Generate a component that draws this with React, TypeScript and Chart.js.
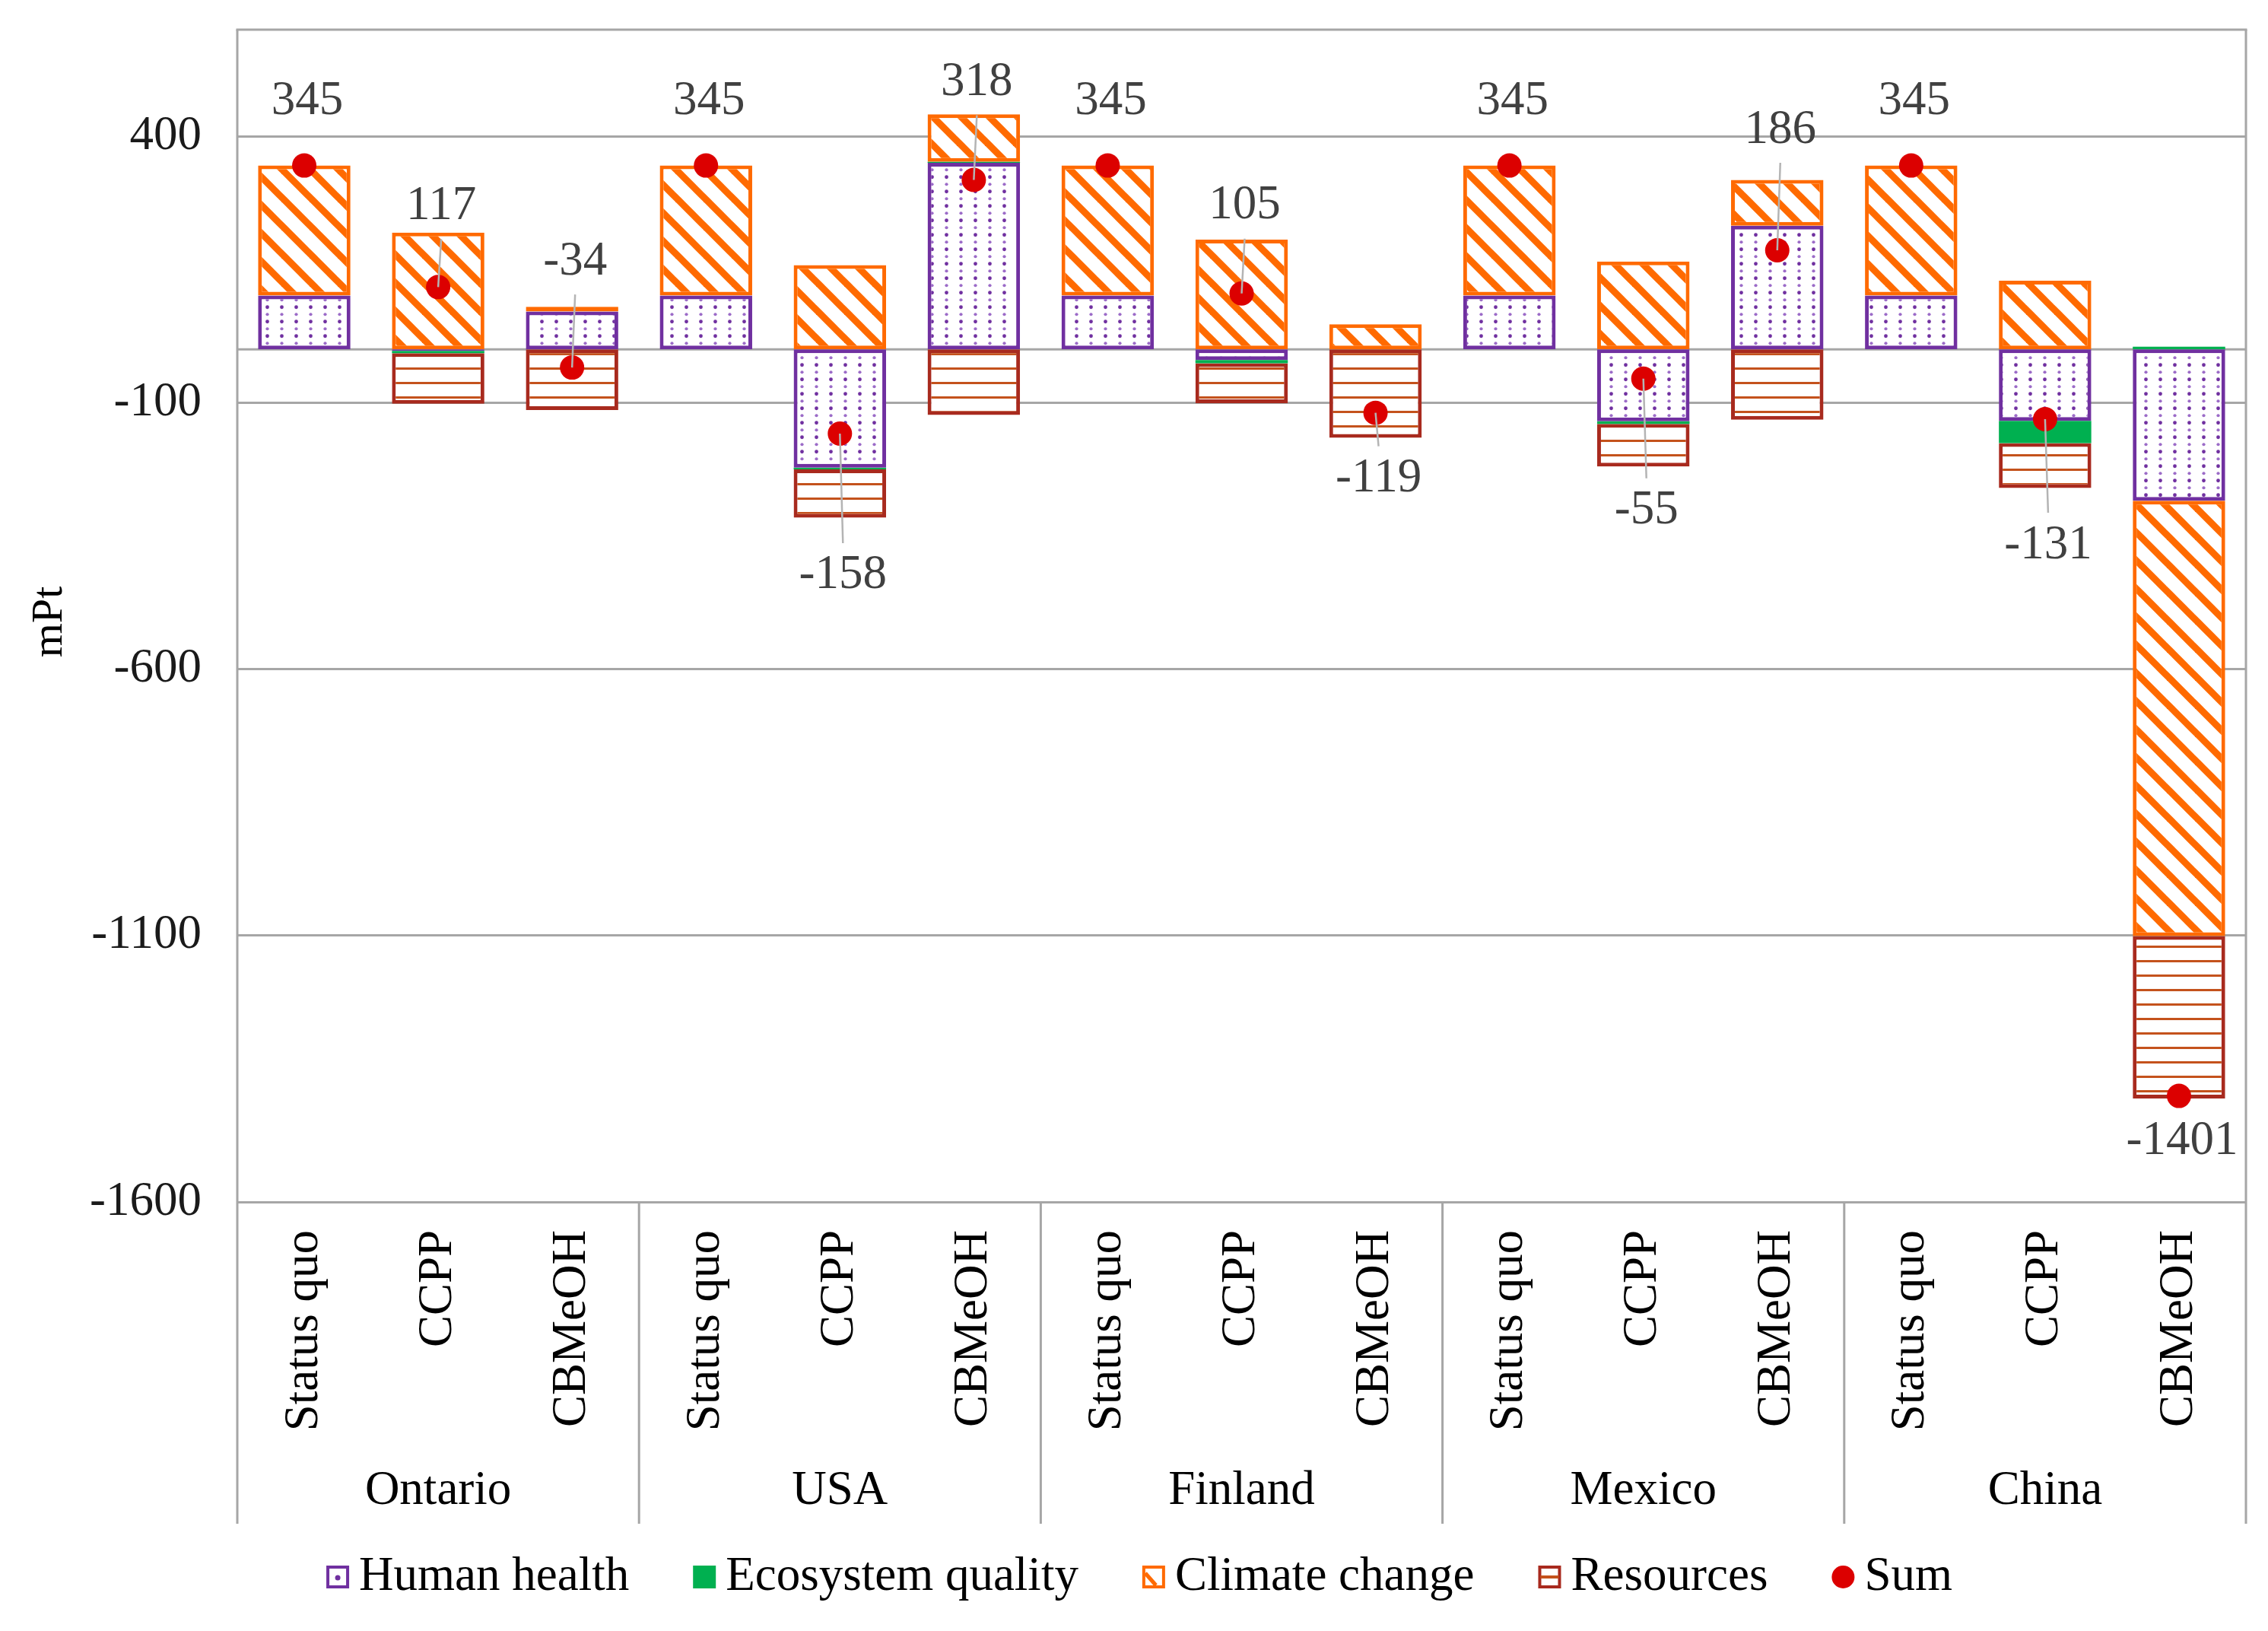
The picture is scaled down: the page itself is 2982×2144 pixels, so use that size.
import { useEffect, useRef } from 'react';
import { Chart, registerables } from 'chart.js';

Chart.register(...registerables);

// ---------- data ----------
const regions = ['Ontario', 'USA', 'Finland', 'Mexico', 'China'];
const scenarios = ['Status quo', 'CCPP', 'CBMeOH'];
const categories = regions.flatMap(() => scenarios);

const humanHealth = [101, -3, 71, 101, -222, 350, 101, -20, 0, 101, -135, 232, 101, -134, -284];
const ecosystemQuality = [0, -4, 0, 0, -3, 2, 0, -6, 0, 0, -5, 0, 0, -42, 5];
const climateChange = [244, 219, 9, 244, 158, 89, 244, 206, 47, 244, 165, 86, 244, 129, -817];
const resources = [0, -95, -114, 0, -91, -123, 0, -75, -166, 0, -80, -132, 0, -84, -305];
const sumValues = [345, 117, -34, 345, -158, 318, 345, 105, -119, 345, -55, 186, 345, -131, -1401];
const yTicks = [-1600, -1100, -600, -100, 400];

// ---------- label placement (style) ----------
const labelShift = [-84, -106, -139, -84, 187, -128, -84, -115, 87, -84, 174, -158, -84, 166, 60];
const labelLeader = [false, true, true, false, true, true, false, true, true, false, true, true, false, true, false];

const FONT = '"Liberation Serif", "Times New Roman", serif';
const GRID = '#a6a6a6';
const PURPLE = '#7030a0';
const PURPLE_LIGHT = '#9c6cc8';
const GREEN = '#00b050';
const ORANGE = '#ff6a00';
const RES_BORDER = '#a82a1e';
const RES_LINE = '#c4521c';
const SUM_RED = '#dc0000';

function makePattern(w: number, h: number, draw: (c: CanvasRenderingContext2D) => void) {
  const cv = document.createElement('canvas');
  cv.width = w;
  cv.height = h;
  const c = cv.getContext('2d') as CanvasRenderingContext2D;
  c.fillStyle = '#ffffff';
  c.fillRect(0, 0, w, h);
  draw(c);
  const ctx = document.createElement('canvas').getContext('2d') as CanvasRenderingContext2D;
  return ctx.createPattern(cv, 'repeat') as CanvasPattern;
}

export default function App() {
  const ref = useRef<HTMLCanvasElement | null>(null);

  useEffect(() => {
    if (!ref.current) return;

    const hhPattern = makePattern(19, 19, (c) => {
      c.fillStyle = PURPLE;
      c.beginPath();
      c.arc(9.5, 4.75, 2.4, 0, Math.PI * 2);
      c.fill();
      c.fillStyle = PURPLE_LIGHT;
      c.beginPath();
      c.arc(9.5, 14.25, 2.1, 0, Math.PI * 2);
      c.fill();
    });
    const T = 37;
    const ccPattern = makePattern(T, T, (c) => {
      c.strokeStyle = ORANGE;
      c.lineWidth = 9;
      for (const x0 of [-T, 0, T]) {
        c.beginPath();
        c.moveTo(x0 - 6, -6);
        c.lineTo(x0 + T + 6, T + 6);
        c.stroke();
      }
    });
    const resPattern = makePattern(10, 19, (c) => {
      c.fillStyle = RES_LINE;
      c.fillRect(0, 8, 10, 3);
    });

    const overlay = {
      id: 'overlay',
      beforeDatasetsDraw(chart: any) {
        const { ctx, chartArea: ca, scales } = chart;
        const x = scales.x;
        const y = scales.y;
        const bottom = x.bottom;
        ctx.save();
        ctx.strokeStyle = GRID;
        ctx.lineWidth = 3;
        const seg = (x1: number, y1: number, x2: number, y2: number) => {
          ctx.beginPath();
          ctx.moveTo(x1, y1);
          ctx.lineTo(x2, y2);
          ctx.stroke();
        };
        const y0 = y.getPixelForValue(0);
        seg(ca.left, y0, ca.right, y0);
        seg(ca.left - 1.5, ca.top, ca.right + 1.5, ca.top);
        seg(ca.left, ca.top, ca.left, bottom);
        seg(ca.right, ca.top, ca.right, bottom);
        for (let k = 1; k < regions.length; k++) {
          const xb = (x.getPixelForValue(k * 3 - 1) + x.getPixelForValue(k * 3)) / 2;
          seg(xb, ca.bottom, xb, bottom);
        }
        ctx.restore();
      },
      afterDatasetsDraw(chart: any) {
        const { ctx } = chart;
        const meta = chart.getDatasetMeta(4);
        ctx.save();
        ctx.font = `63px ${FONT}`;
        ctx.textAlign = 'center';
        ctx.textBaseline = 'middle';
        meta.data.forEach((pt: any, i: number) => {
          const lx = pt.x + 4;
          const ly = pt.y + labelShift[i];
          if (labelLeader[i]) {
            ctx.strokeStyle = '#b4b4b4';
            ctx.lineWidth = 2.5;
            ctx.beginPath();
            ctx.moveTo(pt.x, pt.y);
            ctx.lineTo(lx, ly + (labelShift[i] < 0 ? 43 : -43));
            ctx.stroke();
          }
          ctx.fillStyle = '#404040';
          ctx.fillText(String(sumValues[i]), lx, ly);
        });
        ctx.restore();
      },
      afterDraw(chart: any) {
        const { ctx, chartArea: ca, scales } = chart;
        const x = scales.x;
        ctx.save();
        // region labels
        ctx.font = `63px ${FONT}`;
        ctx.fillStyle = '#000';
        ctx.textAlign = 'center';
        ctx.textBaseline = 'middle';
        regions.forEach((r, k) => {
          const cx = x.getPixelForValue(k * 3 + 1);
          ctx.fillText(r, cx, x.bottom - 43);
        });
        // y title
        ctx.save();
        ctx.translate(66, (ca.top + ca.bottom) / 2 + 8);
        ctx.rotate(-Math.PI / 2);
        ctx.font = `58px ${FONT}`;
        ctx.fillText('mPt', 0, 0);
        ctx.restore();
        // legend
        const labels = chart.data.datasets.map((d: any) => d.label);
        ctx.font = `63px ${FONT}`;
        const box = 30;
        const gapBT = 13;
        const gapItem = 84;
        const widths = labels.map((l: string) => ctx.measureText(l).width);
        const total = widths.reduce((a: number, w: number) => a + box + gapBT + w, 0) + gapItem * (labels.length - 1);
        let lx = chart.width / 2 + 7 - total / 2;
        const yc = chart.height - 71;
        labels.forEach((l: string, i: number) => {
          const bx = lx;
          const by = yc - box / 2;
          if (i === 0) {
            ctx.fillStyle = '#fff';
            ctx.fillRect(bx, by, box, box);
            ctx.strokeStyle = PURPLE;
            ctx.lineWidth = 4;
            ctx.strokeRect(bx + 2, by + 2, box - 4, box - 4);
            ctx.fillStyle = PURPLE;
            ctx.beginPath();
            ctx.arc(bx + box / 2, yc + 1, 3.5, 0, Math.PI * 2);
            ctx.fill();
          } else if (i === 1) {
            ctx.fillStyle = GREEN;
            ctx.fillRect(bx, by, box, box);
          } else if (i === 2) {
            ctx.fillStyle = '#fff';
            ctx.fillRect(bx, by, box, box);
            ctx.strokeStyle = ORANGE;
            ctx.lineWidth = 4;
            ctx.strokeRect(bx + 2, by + 2, box - 4, box - 4);
            ctx.lineWidth = 5;
            ctx.beginPath();
            ctx.moveTo(bx + 4, by + 10);
            ctx.lineTo(bx + 18, by + 26);
            ctx.stroke();
          } else if (i === 3) {
            ctx.fillStyle = '#fff';
            ctx.fillRect(bx, by, box, box);
            ctx.strokeStyle = RES_BORDER;
            ctx.lineWidth = 4;
            ctx.strokeRect(bx + 2, by + 2, box - 4, box - 4);
            ctx.fillStyle = RES_LINE;
            ctx.fillRect(bx + 3, yc - 2, box - 6, 4);
          } else {
            ctx.fillStyle = SUM_RED;
            ctx.beginPath();
            ctx.arc(bx + box / 2, yc, 15, 0, Math.PI * 2);
            ctx.fill();
          }
          ctx.fillStyle = '#000';
          ctx.textAlign = 'left';
          ctx.textBaseline = 'middle';
          ctx.fillText(l, bx + box + gapBT, yc);
          lx += box + gapBT + widths[i] + gapItem;
        });
        ctx.restore();
      },
    };

    const barCommon = {
      type: 'bar' as const,
      stack: 'impact',
      borderSkipped: false,
      barPercentage: 0.69,
      categoryPercentage: 1,
    };

    const chart = new Chart(ref.current, {
      type: 'bar',
      data: {
        labels: categories,
        datasets: [
          { ...barCommon, label: 'Human health', data: humanHealth, backgroundColor: hhPattern, borderColor: PURPLE, borderWidth: 5 },
          { ...barCommon, label: 'Ecosystem quality', data: ecosystemQuality, backgroundColor: GREEN, borderWidth: 0 },
          { ...barCommon, label: 'Climate change', data: climateChange, backgroundColor: ccPattern, borderColor: ORANGE, borderWidth: 5 },
          { ...barCommon, label: 'Resources', data: resources, backgroundColor: resPattern, borderColor: RES_BORDER, borderWidth: 5 },
          {
            type: 'line',
            label: 'Sum',
            data: sumValues,
            stack: 'sum',
            order: -1,
            showLine: false,
            pointRadius: 16,
            pointHoverRadius: 16,
            pointBackgroundColor: SUM_RED,
            pointBorderWidth: 0,
            borderColor: SUM_RED,
          } as any,
        ],
      },
      options: {
        responsive: false,
        maintainAspectRatio: false,
        animation: false,
        layout: { padding: { top: 39, right: 29, bottom: 141, left: 0 } },
        plugins: { legend: { display: false }, tooltip: { enabled: false } },
        scales: {
          x: {
            stacked: true,
            afterFit: (s: any) => { s.height = 423; s.paddingLeft = 0; s.paddingRight = 0; },
            grid: { display: false, drawTicks: false },
            border: { display: false },
            ticks: {
              autoSkip: false,
              minRotation: 90,
              maxRotation: 90,
              padding: 37,
              color: '#000',
              font: { size: 63, family: FONT },
            },
          },
          y: {
            type: 'linear',
            stacked: true,
            min: -1600,
            max: 600,
            afterBuildTicks: (s: any) => { s.ticks = yTicks.map((v) => ({ value: v })); },
            afterFit: (s: any) => { s.width = 312; s.paddingTop = 0; s.paddingBottom = 0; },
            grid: { color: GRID, lineWidth: 3, drawTicks: false },
            border: { display: false },
            ticks: {
              padding: 47,
              color: '#1a1a1a',
              font: { size: 63, family: FONT },
              callback: (v: any) => String(v),
            },
          },
        },
      } as any,
      plugins: [overlay],
    });

    return () => chart.destroy();
  }, []);

  return (
    <div style={{ position: 'absolute', left: 0, top: 0, width: 2982, height: 2144, background: '#fff' }}>
      <canvas ref={ref} width={2982} height={2144} style={{ display: 'block' }} />
    </div>
  );
}
